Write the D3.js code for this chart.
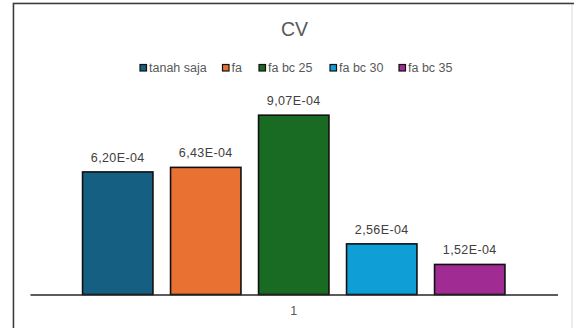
<!DOCTYPE html>
<html>
<head>
<meta charset="utf-8">
<script src="https://cdn.jsdelivr.net/npm/d3@7"></script>
<style>
  html, body { margin: 0; padding: 0; background: #fff; }
  svg { display: block; }
  text { font-family: "Liberation Sans", Arial, sans-serif; }
</style>
</head>
<body>
<svg id="chart" width="574" height="328"></svg>
<script>
// Chart data
const title = "CV";
const category = "1";
const seriesNames = ["tanah saja", "fa", "fa bc 25", "fa bc 30", "fa bc 35"];
const seriesValues = [6.20e-4, 6.43e-4, 9.07e-4, 2.56e-4, 1.52e-4];
const valueLabels = ["6,20E-04", "6,43E-04", "9,07E-04", "2,56E-04", "1,52E-04"];
const seriesColors = ["#156082", "#E97132", "#196B24", "#0F9ED5", "#A02B93"];
const yDomain = [0, 1e-3];

const svg = d3.select("#chart");

// Chart frame
svg.append("rect")
  .attr("x", 13).attr("y", 3)
  .attr("width", 572 - 13).attr("height", 340)
  .attr("fill", "#fff").attr("stroke", "#d9d9d9").attr("stroke-width", 1);
svg.append("path")
  .attr("d", "M13.5,330 V3.5 H574")
  .attr("fill", "none").attr("stroke", "#3a3a3a").attr("stroke-width", 1.5);

// Title
svg.append("text")
  .attr("x", 294.5).attr("y", 35.5)
  .attr("text-anchor", "middle")
  .attr("font-size", 19.5)
  .attr("fill", "#595959")
  .text(title);

// Scales
const plotLeft = 30, plotRight = 557.5;
const x0 = d3.scaleBand().domain([category]).range([plotLeft, plotRight]).padding(0);
const groupWidth = 440;
const groupCenter = x0(category) + x0.bandwidth() / 2;
const x1 = d3.scaleBand()
  .domain(seriesNames)
  .range([groupCenter - groupWidth / 2, groupCenter + groupWidth / 2])
  .paddingInner(0.2)
  .paddingOuter(0.1);
const y = d3.scaleLinear().domain(yDomain).range([294.5, 96.8]);

// Bars
const data = seriesNames.map((name, i) => ({ name, value: seriesValues[i], label: valueLabels[i], color: seriesColors[i] }));

svg.append("g").selectAll("rect")
  .data(data)
  .join("rect")
  .attr("x", d => x1(d.name))
  .attr("y", d => y(d.value))
  .attr("width", x1.bandwidth())
  .attr("height", d => y(0) - y(d.value))
  .attr("fill", d => d.color)
  .attr("stroke", "#111")
  .attr("stroke-width", 1.6);

// Value labels
svg.append("g").selectAll("text")
  .data(data)
  .join("text")
  .attr("x", d => x1(d.name) + x1.bandwidth() / 2)
  .attr("y", d => y(d.value) - 10)
  .attr("text-anchor", "middle")
  .attr("font-size", 12.5)
  .attr("letter-spacing", 0.4)
  .attr("fill", "#404040")
  .text(d => d.label);

// Category axis
const xAxis = svg.append("g")
  .attr("transform", `translate(0,${y(0)})`)
  .call(d3.axisBottom(x0).tickSize(0).tickPadding(12));
xAxis.select(".domain").attr("stroke", "#262626").attr("stroke-width", 1.6);
xAxis.selectAll("text")
  .attr("font-size", 12.5)
  .attr("fill", "#595959")
  .attr("font-family", "Liberation Sans, Arial, sans-serif");

// Legend
const legendX = [139.5, 222, 258.5, 329.5, 398.5];
const legend = svg.append("g").selectAll("g")
  .data(data)
  .join("g")
  .attr("transform", (d, i) => `translate(${legendX[i]},64)`);
legend.append("rect")
  .attr("x", 0.5).attr("y", 0.5)
  .attr("width", 6.5).attr("height", 6.5)
  .attr("fill", d => d.color)
  .attr("stroke", "#111").attr("stroke-width", 1.2);
legend.append("text")
  .attr("x", 9.5).attr("y", 8)
  .attr("font-size", 12.5)
  .attr("fill", "#595959")
  .text(d => d.name);
</script>
</body>
</html>
